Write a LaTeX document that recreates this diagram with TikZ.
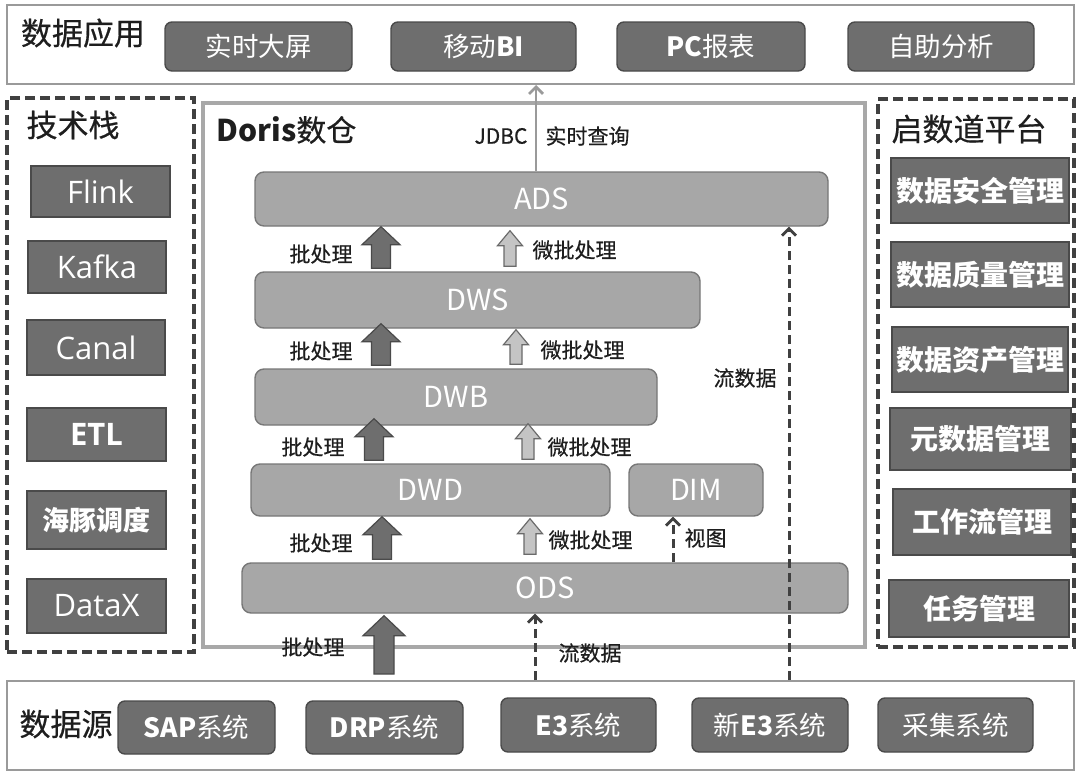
\documentclass[tikz,border=0pt]{standalone}
\usepackage{fontspec}
\setmainfont{Noto Sans CJK SC}
\newfontfamily\latf{Open Sans}
\newfontfamily\medf{Noto Sans CJK SC}[FakeBold=0.5]
\usetikzlibrary{calc,arrows.meta}
\definecolor{boxfill}{HTML}{6E6E6E}
\definecolor{boxline}{HTML}{4A4A4A}
\definecolor{layfill}{HTML}{A7A7A7}
\definecolor{layline}{HTML}{777777}
\definecolor{barline}{HTML}{9A9A9A}
\definecolor{dorisline}{HTML}{A8A8A8}
\definecolor{dashline}{HTML}{404040}
\definecolor{ink}{HTML}{1E1E1E}
\definecolor{lightfill}{HTML}{C4C4C4}
\definecolor{lightline}{HTML}{6A6A6A}
\tikzset{
  bar/.style={draw=barline, line width=2pt, fill=white},
  dorisbox/.style={draw=dorisline, line width=3.2pt},
  dashbox/.style={draw=dashline, line width=3.4pt, dash pattern=on 10pt off 5pt},
  appbox/.style={draw=boxline, fill=boxfill, rounded corners=7pt, line width=1.4pt, text=white, font=\fontsize{26.5}{26.5}\selectfont},
  techbox/.style={draw=boxline, fill=boxfill, line width=1.4pt, text=white, font=\fontsize{31}{31}\selectfont},
  platbox/.style={draw=boxline, fill=boxfill, line width=1.4pt, text=white, font=\bfseries\fontsize{28}{28}\selectfont},
  layerbox/.style={draw=layline, fill=layfill, rounded corners=9pt, line width=1.4pt, text=white, font=\fontsize{29}{29}\selectfont},
  ttl/.style={text=ink, font=\medf\fontsize{31}{31}\selectfont},
  lbl/.style={text=ink, font=\medf\fontsize{21}{21}\selectfont},
  darkarr/.style={fill=boxfill, draw=boxline, line width=1.2pt},
  lightarr/.style={fill=lightfill, draw=lightline, line width=1.2pt},
  flow/.style={draw=dashline, line width=3pt, dash pattern=on 9pt off 5pt, -{Straight Barb[length=7pt,width=14pt,line width=2.8pt]}},
  jdbc/.style={draw=barline, line width=2.8pt, -{Straight Barb[length=7pt,width=14pt,line width=2.8pt]}},
}
% block arrow: #1 style, #2 x, #3 from anchor, #4 gap at from, #5 to anchor, #6 gap at to
\newcommand\blkup[6]{%
  \path (#2,0) coordinate (bxx);
  \path (bxx |- #3) coordinate (bA0);
  \path (bxx |- #5) coordinate (bB0);
  \path ($(bA0)+(0,-#4)$) coordinate (bA);
  \path ($(bB0)+(0,#6)$) coordinate (bB);
  \draw[#1] ($(bA)+(-\ash,0)$) -- ($(bB)+(-\ash,\ahl)$) -- ($(bB)+(-\ahh,\ahl)$) -- (bB)
     -- ($(bB)+(\ahh,\ahl)$) -- ($(bB)+(\ash,\ahl)$) -- ($(bA)+(\ash,0)$) -- cycle;
}
\begin{document}
\begin{tikzpicture}[x=1pt,y=-1pt]
\useasboundingbox (0,0) rectangle (1080,774);
% ---- top bar
\node[bar, minimum width=1067pt, minimum height=79pt] (topbar) at (540.5,44.5) {};
\node[ttl] (apptitle) at (83,33) {数据应用};
\node[appbox, minimum width=187pt, minimum height=49pt] (a1) at (258.5,46.5) {实时大屏};
\node[appbox, minimum width=185pt, minimum height=49pt] (a2) at (483.5,46.5) {移动\textbf{BI}};
\node[appbox, minimum width=188pt, minimum height=49pt] (a3) at (711,46.5) {\textbf{PC}报表};
\node[appbox, minimum width=186pt, minimum height=49pt] (a4) at (941,46.5) {自助分析};
% ---- left column
\node[dashbox, minimum width=187pt, minimum height=554pt] (tech) at (100.5,375) {};
\node[ttl] (techtitle) at (73,125) {技术栈};
\node[techbox, minimum width=139pt, minimum height=51pt] (t1) at (100.5,191.5) {\latf Flink};
\node[techbox, minimum width=138pt, minimum height=52pt] (t2) at (97,267) {\latf Kafka};
\node[techbox, minimum width=138pt, minimum height=55pt] (t3) at (96,347.5) {\latf Canal};
\node[techbox, minimum width=139pt, minimum height=53pt] (t4) at (96.5,434.5) {\latf\bfseries ETL};
\node[techbox, minimum width=139pt, minimum height=58pt, font=\bfseries\fontsize{27}{27}\selectfont] (t5) at (96.5,520) {海豚调度};
\node[techbox, minimum width=139pt, minimum height=54pt] (t6) at (96.5,606) {\latf DataX};
% ---- right column
\node[dashbox, minimum width=196pt, minimum height=548pt] (plat) at (976,373) {};
\node[ttl] (plattitle) at (969,129) {启数道平台};
\node[platbox, minimum width=178pt, minimum height=65pt] (p1) at (980,190.5) {数据安全管理};
\node[platbox, minimum width=178pt, minimum height=65pt] (p2) at (980,274.5) {数据质量管理};
\node[platbox, minimum width=176pt, minimum height=65pt] (p3) at (980,359.5) {数据资产管理};
\node[platbox, minimum width=181pt, minimum height=62pt] (p4) at (980.5,439) {元数据管理};
\node[platbox, minimum width=178pt, minimum height=66pt] (p5) at (982,522) {工作流管理};
\node[platbox, minimum width=180pt, minimum height=57pt] (p6) at (979,608.5) {任务管理};
% ---- bottom bar
\node[bar, minimum width=1067pt, minimum height=89pt] (botbar) at (540.5,725.5) {};
\node[ttl] (srctitle) at (66,724) {数据源};
\node[appbox, minimum width=157pt, minimum height=53pt] (s1) at (196.5,727.5) {\textbf{SAP}系统};
\node[appbox, minimum width=157pt, minimum height=53pt] (s2) at (384.5,727.5) {\textbf{DRP}系统};
\node[appbox, minimum width=155pt, minimum height=54pt] (s3) at (578.5,725) {\textbf{E3}系统};
\node[appbox, minimum width=156pt, minimum height=54pt] (s4) at (770,725) {新\textbf{E3}系统};
\node[appbox, minimum width=155pt, minimum height=54pt] (s5) at (955.5,725) {采集系统};
% ---- Doris box
\node[dorisbox, minimum width=662pt, minimum height=544pt] (doris) at (534,375) {};
\node[ttl, anchor=west, font=\fontsize{30}{30}\selectfont] (doristitle) at (213,130) {\textbf{Doris}{\medf 数仓}};
\node[layerbox, minimum width=573pt, minimum height=54pt] (ads) at (541.5,199) {ADS};
\node[layerbox, minimum width=445pt, minimum height=56pt] (dws) at (477.5,300) {DWS};
\node[layerbox, minimum width=402pt, minimum height=56pt] (dwb) at (456,397) {DWB};
\node[layerbox, minimum width=359pt, minimum height=52pt] (dwd) at (430.5,490) {DWD};
\node[layerbox, minimum width=134pt, minimum height=52pt] (dim) at (696,490) {DIM};
\node[layerbox, minimum width=606pt, minimum height=50pt] (ods) at (545,588) {ODS};
% ---- JDBC
\coordinate (jx) at (536,0);
\draw[jdbc] (ads.north -| jx) -- (topbar.south -| jx);
\node[lbl, anchor=east] (jdbcl) at (531,136) {JDBC};
\node[lbl, anchor=west] (jdbcr) at (542,136) {实时查询};
% ---- dark block arrows
\def\ash{9.5}\def\ahh{19}\def\ahl{18}
\blkup{darkarr}{381}{dws.north}{3}{ads.south}{0}
\blkup{darkarr}{381}{dwb.north}{3}{dws.south}{-5}
\blkup{darkarr}{374}{dwd.north}{3}{dwb.south}{-7}
\blkup{darkarr}{382}{ods.north}{3}{dwd.south}{0}
\def\ash{10}\def\ahh{21}\def\ahl{20}
\blkup{darkarr}{384}{botbar.north}{6}{ods.south}{2}
% ---- light arrows
\def\ash{6}\def\ahh{12.5}\def\ahl{15}
\blkup{lightarr}{510}{dws.north}{5}{ads.south}{4}
\blkup{lightarr}{516}{dwb.north}{4}{dws.south}{1}
\blkup{lightarr}{528}{dwd.north}{4}{dwb.south}{-2}
\blkup{lightarr}{530}{ods.north}{8}{dwd.south}{2}
% ---- labels
\node[lbl, anchor=east] (b1) at (356,254) {批处理};
\node[lbl, anchor=east] (b2) at (356,351) {批处理};
\node[lbl, anchor=east] (b3) at (348,447) {批处理};
\node[lbl, anchor=east] (b4) at (356,543) {批处理};
\node[lbl, anchor=east] (b5) at (348,647) {批处理};
\node[lbl, anchor=west] (m1) at (529,250) {微批处理};
\node[lbl, anchor=west] (m2) at (537,350) {微批处理};
\node[lbl, anchor=west] (m3) at (544,447) {微批处理};
\node[lbl, anchor=west] (m4) at (545,540) {微批处理};
% ---- dashed flows
\coordinate (fx1) at (789,0);
\coordinate (fx2) at (535,0);
\coordinate (fx3) at (673,0);
\draw[flow] (botbar.north -| fx1) -- (ads.south -| fx1);
\draw[flow] (botbar.north -| fx2) -- (ods.south -| fx2);
\draw[flow] (ods.north -| fx3) -- (dim.south -| fx3);
\node[lbl] (f1) at (745,378) {流数据};
\node[lbl, anchor=west] (f2) at (555,653) {流数据};
\node[lbl, anchor=west] (v1) at (681,538) {视图};
\end{tikzpicture}
\end{document}
